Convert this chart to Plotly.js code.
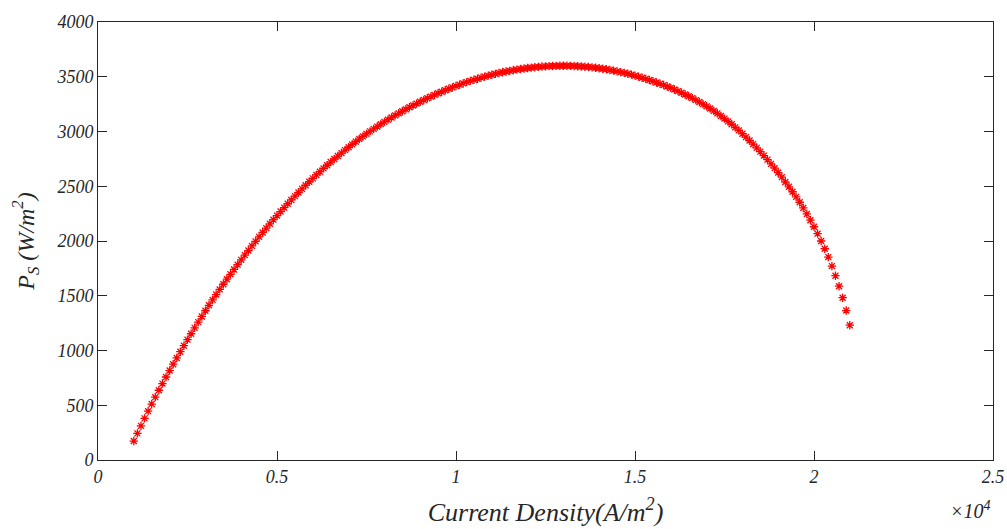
<!DOCTYPE html>
<html>
<head>
<meta charset="utf-8">
<script src="https://cdn.plot.ly/plotly-3.0.1.min.js"></script>
<style>html,body{margin:0;padding:0;background:#fff;}#chart{width:1007px;height:529px;}</style>
</head>
<body>
<div id="chart"></div>
<script>
// Current density (A/m^2)
var currentDensity = [
1000,1100,1200,1300,1400,1500,1600,1700,1800,1900,
2000,2100,2200,2300,2400,2500,2600,2700,2800,2900,
3000,3100,3200,3300,3400,3500,3600,3700,3800,3900,
4000,4100,4200,4300,4400,4500,4600,4700,4800,4900,
5000,5100,5200,5300,5400,5500,5600,5700,5800,5900,
6000,6100,6200,6300,6400,6500,6600,6700,6800,6900,
7000,7100,7200,7300,7400,7500,7600,7700,7800,7900,
8000,8100,8200,8300,8400,8500,8600,8700,8800,8900,
9000,9100,9200,9300,9400,9500,9600,9700,9800,9900,
10000,10100,10200,10300,10400,10500,10600,10700,10800,10900,
11000,11100,11200,11300,11400,11500,11600,11700,11800,11900,
12000,12100,12200,12300,12400,12500,12600,12700,12800,12900,
13000,13100,13200,13300,13400,13500,13600,13700,13800,13900,
14000,14100,14200,14300,14400,14500,14600,14700,14800,14900,
15000,15100,15200,15300,15400,15500,15600,15700,15800,15900,
16000,16100,16200,16300,16400,16500,16600,16700,16800,16900,
17000,17100,17200,17300,17400,17500,17600,17700,17800,17900,
18000,18100,18200,18300,18400,18500,18600,18700,18800,18900,
19000,19100,19200,19300,19400,19500,19600,19700,19800,19900,
20000,20100,20200,20300,20400,20500,20600,20700,20800,20900,
21000];

// Power density P_S (W/m^2)
var powerDensity = [
173,243,312,380,446,511,574,637,698,758,
817,875,932,989,1044,1099,1153,1207,1259,1311,
1363,1413,1462,1511,1558,1605,1651,1696,1740,1784,
1828,1871,1913,1955,1997,2038,2078,2118,2157,2195,
2232,2269,2305,2340,2375,2410,2443,2476,2509,2541,
2572,2603,2633,2663,2692,2721,2749,2776,2803,2830,
2856,2882,2907,2931,2955,2978,3001,3024,3045,3067,
3088,3108,3128,3147,3166,3185,3203,3221,3238,3255,
3272,3288,3304,3319,3334,3349,3363,3377,3390,3403,
3416,3428,3439,3451,3462,3472,3482,3492,3501,3510,
3518,3526,3534,3541,3548,3554,3560,3565,3571,3575,
3580,3583,3587,3590,3593,3595,3597,3598,3599,3600,
3600,3600,3599,3598,3596,3594,3592,3589,3586,3582,
3578,3573,3568,3562,3556,3549,3542,3535,3527,3519,
3510,3501,3491,3481,3470,3459,3448,3436,3424,3411,
3398,3384,3369,3354,3338,3322,3305,3287,3269,3250,
3230,3210,3188,3166,3142,3118,3092,3066,3038,3010,
2980,2949,2918,2885,2851,2816,2780,2743,2704,2665,
2625,2583,2539,2495,2450,2403,2354,2302,2247,2190,
2130,2067,2000,1929,1853,1771,1683,1587,1482,1365,
1231];

var xTickVals = [0, 5000, 10000, 15000, 20000, 25000];
var xTickText = ["0", "0.5", "1", "1.5", "2", "2.5"];
var yTickVals = [0, 500, 1000, 1500, 2000, 2500, 3000, 3500, 4000];

var serif = "Liberation Serif, Times New Roman, serif";
var axisColor = "#262626";

var trace = {
  x: currentDensity,
  y: powerDensity,
  mode: "markers",
  type: "scatter",
  marker: {symbol: "asterisk-open", size: 7, color: "#ff0000", line: {color: "#ff0000", width: 1.3}},
  hoverinfo: "x+y"
};

var layout = {
  width: 1007, height: 529,
  margin: {l: 98, r: 14, t: 22, b: 69},
  paper_bgcolor: "#ffffff", plot_bgcolor: "#ffffff",
  showlegend: false,
  font: {family: serif, color: axisColor, size: 18, style: "italic"},
  xaxis: {
    range: [0, 25000],
    tickvals: xTickVals, ticktext: xTickText,
    ticks: "inside", ticklen: 9, tickwidth: 1, tickcolor: axisColor,
    showline: true, linecolor: axisColor, linewidth: 1, mirror: "ticks",
    showgrid: false, zeroline: false,
    tickfont: {family: serif, size: 18, color: axisColor, style: "italic"},
    title: {text: "Current Density(A/m<sup>2</sup>)", font: {family: serif, size: 26, color: axisColor, style: "italic"}, standoff: 17}
  },
  yaxis: {
    range: [0, 4000],
    tickvals: yTickVals,
    ticks: "inside", ticklen: 9, tickwidth: 1, tickcolor: axisColor,
    showline: true, linecolor: axisColor, linewidth: 1, mirror: "ticks",
    showgrid: false, zeroline: false,
    tickfont: {family: serif, size: 18, color: axisColor, style: "italic"},
    title: {text: "P<sub>S</sub> (W/m<sup>2</sup>)", font: {family: serif, size: 24, color: axisColor, style: "italic"}, standoff: 15}
  },
  annotations: [{
    xref: "paper", yref: "paper", x: 1.0, y: -0.115,
    xanchor: "right", yanchor: "middle",
    text: "×10<sup>4</sup>", showarrow: false,
    font: {family: serif, size: 20, color: axisColor, style: "italic"}
  }]
};

Plotly.newPlot("chart", [trace], layout, {displayModeBar: false, staticPlot: true});
</script>
</body>
</html>
